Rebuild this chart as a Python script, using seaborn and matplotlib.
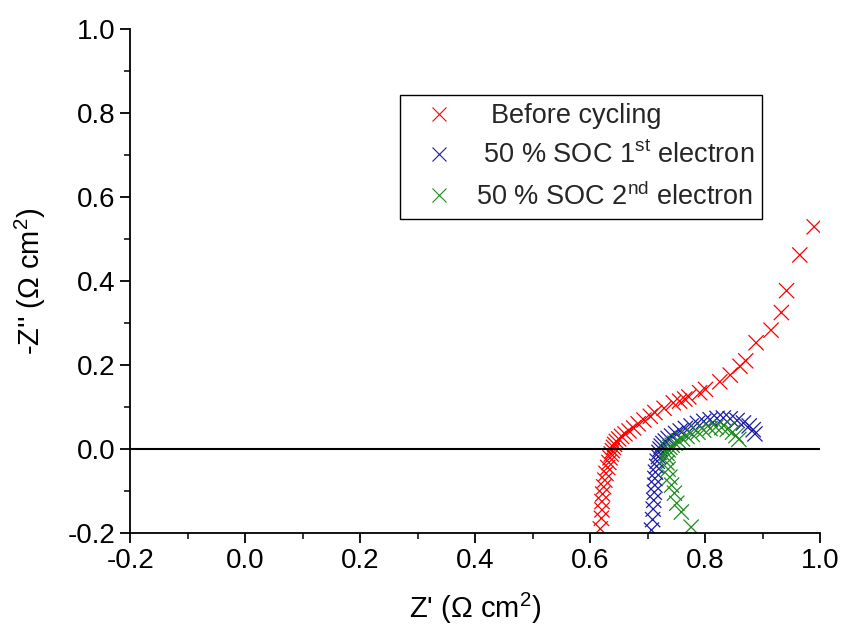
import numpy as np
import pandas as pd
import matplotlib
matplotlib.use("Agg")
import matplotlib.pyplot as plt
import seaborn as sns
from matplotlib.lines import Line2D

# Nyquist data: Z' (ohm cm^2) and -Z'' (ohm cm^2)
before_x = [0.617, 0.619, 0.620, 0.620, 0.621, 0.623, 0.625, 0.627, 0.630, 0.632,
            0.634, 0.636, 0.638, 0.640, 0.642, 0.645, 0.649, 0.654, 0.660, 0.667,
            0.675, 0.683, 0.693, 0.704, 0.712, 0.728, 0.744, 0.755, 0.764, 0.771,
            0.790, 0.800, 0.825, 0.843, 0.860, 0.870, 0.888, 0.914, 0.932, 0.941,
            0.964, 0.989]
before_y = [-0.190, -0.165, -0.145, -0.125, -0.107, -0.090, -0.074, -0.058, -0.044, -0.032,
            -0.021, -0.012, -0.004, 0.004, 0.011, 0.018, 0.024, 0.030, 0.036, 0.043,
            0.050, 0.060, 0.069, 0.078, 0.087, 0.097, 0.110, 0.114, 0.119, 0.124,
            0.134, 0.142, 0.160, 0.176, 0.197, 0.210, 0.253, 0.283, 0.325, 0.377,
            0.462, 0.529]

soc1_x = [0.706, 0.708, 0.709, 0.710, 0.711, 0.712, 0.712, 0.713, 0.715, 0.716,
          0.718, 0.719, 0.721, 0.723, 0.726, 0.730, 0.735, 0.741, 0.748, 0.756,
          0.765, 0.775, 0.786, 0.797, 0.808, 0.820, 0.831, 0.843, 0.855, 0.866,
          0.876, 0.883, 0.886]
soc1_y = [-0.193, -0.168, -0.143, -0.122, -0.103, -0.086, -0.070, -0.055, -0.041, -0.029,
          -0.018, -0.008, 0.000, 0.007, 0.013, 0.019, 0.025, 0.031, 0.037, 0.043,
          0.049, 0.055, 0.061, 0.066, 0.070, 0.073, 0.074, 0.072, 0.068, 0.062,
          0.055, 0.046, 0.036]

soc2_x = [0.775, 0.758, 0.750, 0.746, 0.741, 0.738, 0.735, 0.733, 0.732, 0.733,
          0.735, 0.738, 0.742, 0.747, 0.753, 0.760, 0.768, 0.777, 0.787, 0.797,
          0.808, 0.818, 0.828, 0.838, 0.847, 0.853, 0.858]
soc2_y = [-0.186, -0.150, -0.129, -0.105, -0.086, -0.067, -0.048, -0.033, -0.020, -0.010,
          -0.002, 0.004, 0.009, 0.014, 0.019, 0.024, 0.030, 0.035, 0.040, 0.045,
          0.049, 0.052, 0.051, 0.047, 0.040, 0.032, 0.023]

labels = ["  Before cycling",
          " 50 % SOC 1$^{\\mathrm{st}}$ electron",
          "50 % SOC 2$^{\\mathrm{nd}}$ electron"]
colors = ["#ff0000", "#1c1caa", "#1e8c1e"]

xticks = [-0.2, 0.0, 0.2, 0.4, 0.6, 0.8, 1.0]
yticks = [-0.2, 0.0, 0.2, 0.4, 0.6, 0.8, 1.0]

df = pd.concat([
    pd.DataFrame({"x": before_x, "y": before_y, "set": labels[0]}),
    pd.DataFrame({"x": soc1_x, "y": soc1_y, "set": labels[1]}),
    pd.DataFrame({"x": soc2_x, "y": soc2_y, "set": labels[2]}),
], ignore_index=True)

sns.set_theme(style="ticks")
plt.rcParams["font.family"] = ["Liberation Sans", "DejaVu Sans"]
plt.rcParams["mathtext.fontset"] = "custom"
plt.rcParams["mathtext.rm"] = "Liberation Sans"
plt.rcParams["mathtext.it"] = "Liberation Sans:italic"

fig = plt.figure(figsize=(8.43, 6.36), dpi=100)
ax = fig.add_axes([0.1548, 0.1619, 0.8185, 0.7925])

sns.scatterplot(data=df, x="x", y="y", hue="set", palette=dict(zip(labels, colors)),
                marker="x", s=120, linewidth=0.9, ax=ax, legend=False)

ax.axhline(0, color="black", lw=1.5, zorder=1)

ax.set_xlim(-0.2, 1.0)
ax.set_ylim(-0.2, 1.0)
ax.set_xticks(xticks)
ax.set_yticks(yticks)
ax.set_xticklabels([f"{v:.1f}" for v in xticks])
ax.set_yticklabels([f"{v:.1f}" for v in yticks])
ax.set_xticks(np.arange(-0.1, 1.0, 0.2), minor=True)
ax.set_yticks(np.arange(-0.1, 1.0, 0.2), minor=True)
ax.tick_params(axis="both", which="major", direction="out", length=7, width=1.3,
               labelsize=20, color="black", labelcolor="black", pad=4)
ax.tick_params(axis="both", which="minor", direction="out", length=4, width=1.1,
               color="black")

sns.despine(ax=ax)
for side in ("left", "bottom"):
    ax.spines[side].set_linewidth(1.3)
    ax.spines[side].set_color("black")

ax.set_xlabel("Z' ($\\Omega$ cm$^{2}$)", fontsize=21, labelpad=12, color="black")
ax.set_ylabel("-Z'' ($\\Omega$ cm$^{2}$)", fontsize=21, labelpad=14, color="black")

handles = [Line2D([], [], ls="none", marker="x", color=c, markersize=10, markeredgewidth=0.8)
           for c in colors]
leg = ax.legend(handles, labels, loc="upper left", bbox_to_anchor=(0.3906, 0.869),
                fontsize=19.5, frameon=True, fancybox=False, framealpha=1,
                edgecolor="black", borderpad=0.3, handletextpad=0.2,
                labelspacing=0.48, handlelength=2.3, borderaxespad=0)
leg.get_frame().set_linewidth(1.0)

fig.savefig("out.png", dpi=100)
